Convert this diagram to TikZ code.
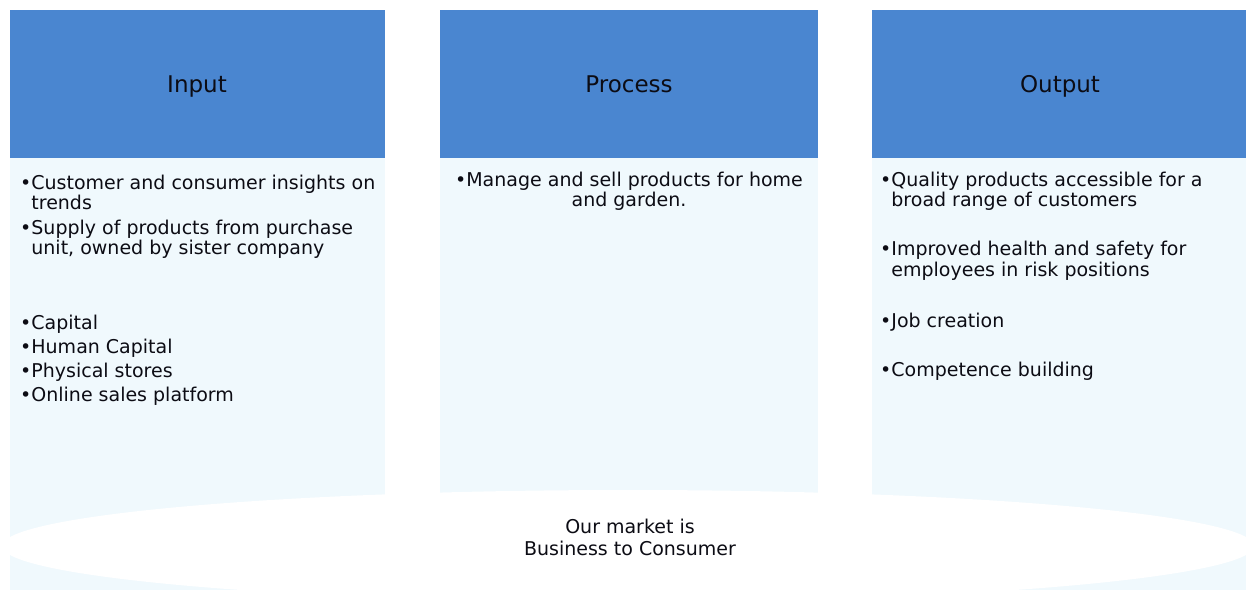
\documentclass[tikz,border=0pt]{standalone}
\usepackage{fontspec}
\setmainfont{DejaVu Sans}
\definecolor{headblue}{RGB}{74,134,208}
\definecolor{panelblue}{RGB}{240,249,253}
\definecolor{inkcol}{RGB}{12,12,20}
\begin{document}
\begin{tikzpicture}[x=1pt,y=-1pt,
  header/.style={fill=headblue, draw=none},
  panel/.style={fill=panelblue, draw=none},
  headtext/.style={font=\fontsize{23}{26}\selectfont, text=inkcol, inner sep=0pt, anchor=base},
  bodytext/.style={font=\fontsize{19}{20}\selectfont, text=inkcol, inner sep=0pt}
]
\useasboundingbox (0,0) rectangle (1247,593);
\fill[white] (0,0) rectangle (1247,593);

% column bodies (pale) and coloured headers
\fill[panel] (10,158) rectangle (385,590);
\fill[panel] (440,158) rectangle (818,590);
\fill[panel] (872,158) rectangle (1246,590);
\fill[header] (10,10) rectangle (385,158);
\fill[header] (440,10) rectangle (818,158);
\fill[header] (872,10) rectangle (1246,158);

% market base ellipse across the bottom
\fill[white] (628,546) ellipse [x radius=626pt, y radius=56pt];

% headings
\node[headtext] (input) at (197,93) {Input};
\node[headtext] (process) at (629,93) {Process};
\node[headtext] (output) at (1060,93) {Output};

% column contents (the base anchor sits on the last line)
\node[bodytext, anchor=base west, align=left] (inputlist) at (20,401)
  {•Customer and consumer insights on\\
   \hphantom{•}trends\\[5pt]
   •Supply of products from purchase\\
   \hphantom{•}unit, owned by sister company\\[55pt]
   •Capital\\[4pt]
   •Human Capital\\[4pt]
   •Physical stores\\[4pt]
   •Online sales platform};

\node[bodytext, anchor=base, align=center] (processlist) at (629,207)
  {•Manage and sell products for home\\and garden.};

\node[bodytext, anchor=base west, align=left] (outputlist) at (880,376)
  {•Quality products accessible for a\\
   \hphantom{•}broad range of customers\\[29pt]
   •Improved health and safety for\\
   \hphantom{•}employees in risk positions\\[32pt]
   •Job creation\\[28pt]
   •Competence building};

\node[bodytext, anchor=base, align=center] (market) at (630,555)
  {Our market is\\[2pt]Business to Consumer};
\end{tikzpicture}
\end{document}
